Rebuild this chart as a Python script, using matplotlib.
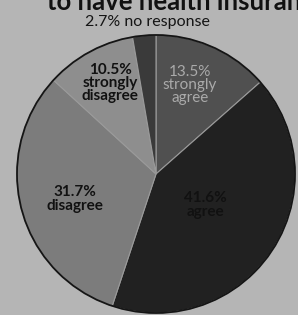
import matplotlib.pyplot as plt
from matplotlib.patches import Circle

# survey answers, clockwise from 12 o'clock
labels = ['strongly\nagree', 'agree', 'disagree', 'strongly\ndisagree', 'no response']
shares = [13.5, 41.6, 31.7, 10.5, 2.7]
colors = ['#505050', '#212121', '#7c7c7c', '#8e8e8e', '#3a3a3a']
text_colors = ['#aaaaaa', '#111111', '#111111', '#111111', '#111111']

bg = '#b5b5b5'
fig = plt.figure(figsize=(2.98, 3.15), dpi=100, facecolor=bg)
ax = fig.add_axes([0, 0, 1, 1])
ax.set_facecolor(bg)

cx, cy, r = 156, 141, 139
ax.pie(shares, colors=colors, startangle=90, counterclock=False,
       center=(cx, cy), radius=r, frame=True,
       wedgeprops=dict(edgecolor='#9a9a9a', linewidth=0.8))
ax.set_xlim(0, 298)
ax.set_ylim(0, 315)
ax.set_aspect('equal')
ax.axis('off')
ax.add_patch(Circle((cx, cy), r, fill=False, edgecolor='#151515', linewidth=1.3))

fam = ['Lato', 'DejaVu Sans']

# labels inside the wedges
label_pos = [(190, 230), (205, 110), (75, 116), (110, 232)]
for i in range(4):
    x, y = label_pos[i]
    ax.text(x, y, f'{shares[i]}%\n{labels[i]}', ha='center', va='center',
            fontsize=11, family=fam, color=text_colors[i],
            fontweight='bold' if i in (1, 2, 3) else 'normal', linespacing=0.95)

ax.text(147, 293, f'{shares[4]}% {labels[4]}', ha='center', va='center',
        fontsize=11.5, family=fam, color='#151515')

# title, cut off by the top edge
ax.text(47, 305, 'to have health insurance', ha='left', va='baseline',
        fontsize=18.5, family=fam, fontweight='bold', color='#111111')

fig.savefig('out.png', dpi=100, facecolor=bg)
